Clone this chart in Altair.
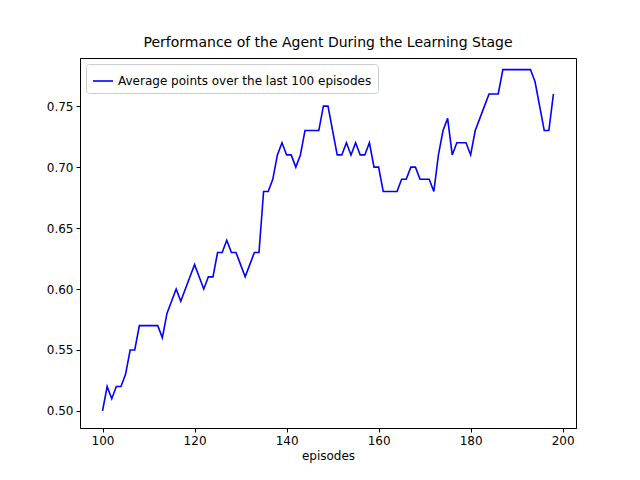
import altair as alt
import pandas as pd

episodes = list(range(100, 199))
points = [.50,.52,.51,.52,.52,.53,.55,.55,.57,.57,.57,.57,.57,.56,.58,.59,.60,.59,.60,.61,
          .62,.61,.60,.61,.61,.63,.63,.64,.63,.63,.62,.61,.62,.63,.63,.68,.68,.69,.71,.72,
          .71,.71,.70,.71,.73,.73,.73,.73,.75,.75,.73,.71,.71,.72,.71,.72,.71,.71,.72,.70,
          .70,.68,.68,.68,.68,.69,.69,.70,.70,.69,.69,.69,.68,.71,.73,.74,.71,.72,.72,.72,
          .71,.73,.74,.75,.76,.76,.76,.78,.78,.78,.78,.78,.78,.78,.77,.75,.73,.73,.76]
label = "Average points over the last 100 episodes"
df = pd.DataFrame({"episodes": episodes, "points": points, "series": label})

font = "DejaVu Sans"
chart = alt.Chart(df).mark_line(strokeWidth=1.6, clip=True).encode(
    x=alt.X("episodes:Q", title="episodes",
            scale=alt.Scale(domain=[95.1, 202.9], nice=False, zero=False),
            axis=alt.Axis(values=[100, 120, 140, 160, 180, 200], grid=False, format="d")),
    y=alt.Y("points:Q", title=None,
            scale=alt.Scale(domain=[0.486, 0.7895], nice=False, zero=False),
            axis=alt.Axis(values=[0.50, 0.55, 0.60, 0.65, 0.70, 0.75], grid=False, format=".2f")),
    color=alt.Color("series:N", scale=alt.Scale(range=["#0000ff"]),
                    legend=alt.Legend(title=None, orient="top-left", symbolType="stroke",
                                      symbolStrokeWidth=1.6, symbolSize=400, labelFontSize=12,
                                      labelFont=font, strokeColor="#cccccc", fillColor="white",
                                      padding=6, cornerRadius=3, offset=6, labelLimit=400)),
).properties(
    width=496, height=370,
    title=alt.TitleParams("Performance of the Agent During the Learning Stage",
                          fontSize=14, font=font, fontWeight="normal", offset=8),
    autosize=alt.AutoSizeParams(type="none"),
    padding={"left": 72, "top": 50, "right": 56, "bottom": 44},
).configure_view(stroke="black", strokeWidth=1).configure_axis(
    labelFont=font, titleFont=font, labelFontSize=12, titleFontSize=12,
    titleFontWeight="normal", labelColor="black", titleColor="black",
    domainColor="black", tickColor="black", tickSize=4, labelPadding=3,
)
chart.save("out.html", embed_options={"renderer": "svg", "actions": False})
